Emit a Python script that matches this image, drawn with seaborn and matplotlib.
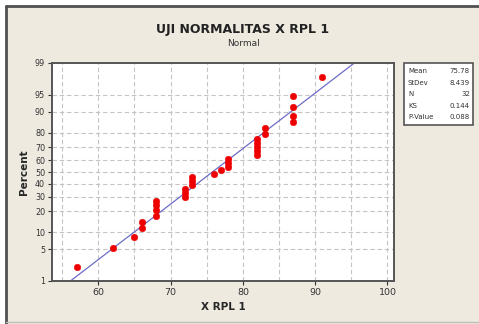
import numpy as np
import pandas as pd
import seaborn as sns
import matplotlib.pyplot as plt
from matplotlib.patches import Rectangle
from statistics import NormalDist

# Sorted sample values (N = 32)
x_rpl1 = [57, 62, 65, 66, 66, 68, 68, 68, 68, 72, 72, 72, 73, 73, 73, 76,
          77, 78, 78, 78, 82, 82, 82, 82, 82, 83, 83, 87, 87, 87, 87, 91]
# Plotted percent of each point
percent = [2.16, 5.25, 8.33, 11.42, 14.51, 17.59, 20.68, 23.77, 26.85, 29.94,
           33.02, 36.11, 39.20, 42.28, 45.37, 48.46, 51.54, 54.63, 57.72, 60.80,
           63.89, 66.98, 70.06, 73.15, 76.23, 79.32, 82.41, 85.49, 88.58, 91.67,
           94.75, 97.84]

stat_names = ["Mean", "StDev", "N", "KS", "P-Value"]
stat_values = ["75.78", "8.439", "32", "0.144", "0.088"]
mean, sd = 75.78, 8.439

y_ticks = [1, 5, 10, 20, 30, 40, 50, 60, 70, 80, 90, 95, 99]
x_ticks = [60, 70, 80, 90, 100]

df = pd.DataFrame({"X RPL 1": x_rpl1, "Percent": percent})

# fitted normal line
fit_x = np.linspace(50, 105, 200)
fit_p = [NormalDist(mean, sd).cdf(v) * 100 for v in fit_x]

std = NormalDist()
_ppf = np.vectorize(lambda q: std.inv_cdf(q / 100), otypes=[float])
_cdf = np.vectorize(lambda q: std.cdf(q) * 100, otypes=[float])
def fwd(p):
    p = np.clip(np.asarray(p, dtype=float), 1e-4, 100 - 1e-4)
    return _ppf(p)
def inv(z):
    return _cdf(np.asarray(z, dtype=float))

sns.set_theme(style="white")
plt.rcParams['font.family'] = ['DejaVu Sans']

bg = "#eeeae0"
fig = plt.figure(figsize=(4.79, 3.24), dpi=100, facecolor="white")
fig.patches.append(Rectangle((6 / 479, 0), 1, 1 - 6 / 324, transform=fig.transFigure,
                             facecolor=bg, edgecolor="none", zorder=-2))
fig.lines.append(plt.Line2D([6 / 479, 6 / 479], [0, 1 - 6 / 324], transform=fig.transFigure,
                            color="#505050", lw=2, zorder=-1))
fig.lines.append(plt.Line2D([6 / 479, 1], [1 - 6 / 324, 1 - 6 / 324], transform=fig.transFigure,
                            color="#505050", lw=2, zorder=-1))
fig.lines.append(plt.Line2D([6 / 479, 1], [2 / 324, 2 / 324], transform=fig.transFigure,
                            color="#c0bdb5", lw=1, zorder=-1))

ax = fig.add_axes([52 / 479, 43 / 324, 342 / 479, 218 / 324])
ax.set_facecolor("white")
ax.set_yscale("function", functions=(fwd, inv))

for gx in np.arange(55, 101, 5):
    ax.axvline(gx, color="#c4c4c4", ls=(0, (4, 2.5)), lw=0.8, zorder=0)
for gy in y_ticks[1:-1]:
    ax.axhline(gy, color="#c4c4c4", ls=(0, (4, 2.5)), lw=0.8, zorder=0)

sns.lineplot(x=fit_x, y=fit_p, color="#6c6cc8", lw=0.9, ax=ax, zorder=2)
sns.scatterplot(data=df, x="X RPL 1", y="Percent", color="#ee0000", edgecolor="#ee0000",
                s=22, ax=ax, zorder=3)

ax.set_xlim(53.6, 100.9)
ax.set_ylim(1, 99)
ax.set_yticks(y_ticks)
ax.set_yticklabels([str(t) for t in y_ticks])
ax.set_xticks(x_ticks)
ax.set_xticklabels([str(t) for t in x_ticks])
ax.minorticks_off()
ax.tick_params(axis="both", colors="#333333", length=3, width=0.8,
               direction="out", left=True, bottom=True, pad=2)
ax.tick_params(axis="x", labelsize=6.8)
ax.tick_params(axis="y", labelsize=5.8)
for s in ax.spines.values():
    s.set_color("#555555")
    s.set_linewidth(1.4)

ax.set_xlabel("X RPL 1", fontsize=7.5, fontweight="bold", labelpad=4)
ax.set_ylabel("Percent", fontsize=7.5, fontweight="bold", labelpad=4)

fig.text(243 / 479, 1 - 30 / 324, "UJI NORMALITAS X RPL 1", ha="center", va="center",
         fontsize=9, fontweight="bold", color="#222222")
fig.text(243 / 479, 1 - 44 / 324, "Normal", ha="center", va="center",
         fontsize=6.5, color="#333333")

# stats box
bx0, by0, bw, bh = 404, 63, 69, 62
fig.patches.append(Rectangle((bx0 / 479, 1 - (by0 + bh) / 324), bw / 479, bh / 324,
                             transform=fig.transFigure, facecolor="white",
                             edgecolor="#555555", lw=1.2, zorder=3))
for i, (n, v) in enumerate(zip(stat_names, stat_values)):
    yy = 1 - (by0 + 8 + i * 11.6) / 324
    fig.text((bx0 + 4) / 479, yy, n, ha="left", va="center", fontsize=5, color="#333333", zorder=4)
    fig.text((bx0 + bw - 3) / 479, yy, v, ha="right", va="center", fontsize=5, color="#333333", zorder=4)

fig.savefig("out.png", dpi=100, facecolor=fig.get_facecolor())
